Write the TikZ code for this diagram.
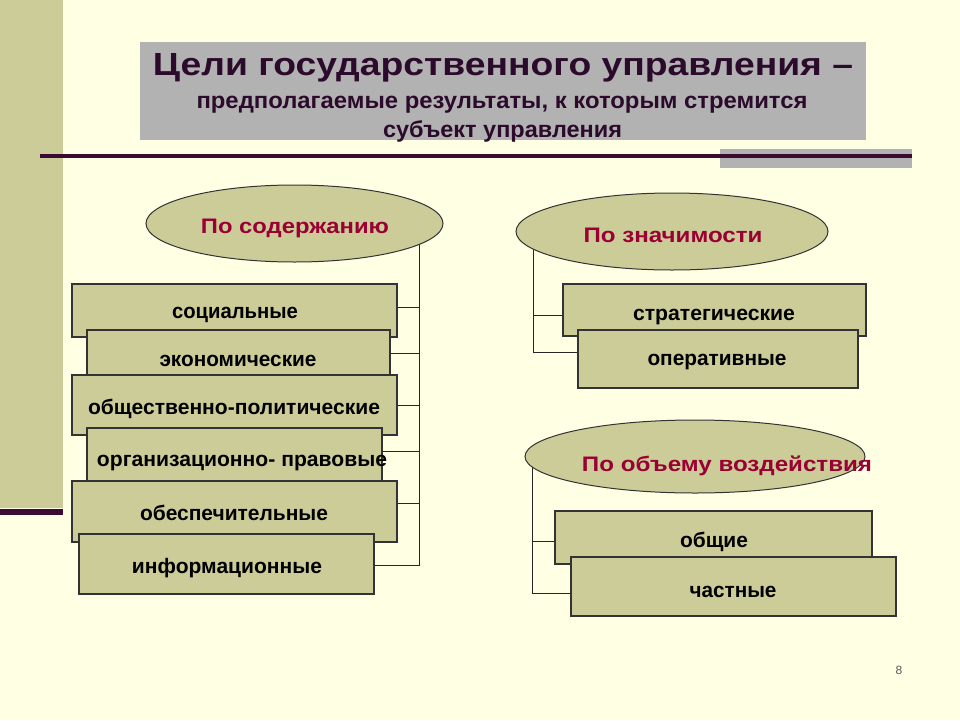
\documentclass[tikz,border=0pt]{standalone}
\usepackage{fontspec}
\setmainfont{Liberation Sans}
\usetikzlibrary{shapes.geometric}
\definecolor{pagebg}{HTML}{FFFFE4}
\definecolor{strip}{HTML}{CCCC99}
\definecolor{boxfill}{HTML}{CCCC99}
\definecolor{titlegray}{HTML}{B2B2B2}
\definecolor{barmaroon}{HTML}{3A0A32}
\definecolor{titletext}{HTML}{2B0A2B}
\definecolor{catred}{HTML}{990033}
\newcommand\fw[2]{\resizebox{#1pt}{\height}{#2}}
\pgfdeclarelayer{backlayer}
\pgfdeclarelayer{connlayer}
\pgfsetlayers{backlayer,connlayer,main}
\begin{document}
\begin{tikzpicture}[x=1pt,y=-1pt,
  box/.style={draw=black!80, line width=1.2pt, fill=boxfill, inner sep=0pt, outer sep=0pt, anchor=north west},
  ell/.style={ellipse, draw=black!80, line width=1pt, fill=boxfill, inner sep=0pt},
  lbl/.style={font=\bfseries\fontsize{21}{23}\selectfont, text=black, anchor=base, inner sep=0pt},
  cat/.style={text=catred, anchor=base, inner sep=0pt},
  conn/.style={draw=black!85, line width=0.9pt},
  ttl/.style={text=titletext, anchor=base, inner sep=0pt}]
\useasboundingbox (0,0) rectangle (960,720);
\begin{pgfonlayer}{backlayer}
\fill[pagebg] (0,0) rectangle (960,720);
% left strip
\fill[strip] (0,0) rectangle (63,508);
\fill[barmaroon] (0,509) rectangle (63,515);
\end{pgfonlayer}
% title
\node[fill=titlegray, minimum width=726pt, minimum height=98pt, inner sep=0pt, anchor=north west] (tbox) at (140,42) {};
\node[ttl, font=\bfseries\fontsize{32}{34}\selectfont] (t1) at (503,75) {\fw{700}{Цели государственного управления –}};
\node[ttl, font=\bfseries\fontsize{23}{25}\selectfont] (t2) at (502,108) {\fw{611}{предполагаемые результаты, к которым стремится}};
\node[ttl, font=\bfseries\fontsize{23}{25}\selectfont] (t3) at (502.5,137) {\fw{239}{субъект управления}};
\node[fill=titlegray, minimum width=192pt, minimum height=19pt, inner sep=0pt, anchor=north west] (gbar) at (720,149) {};
\coordinate (rl) at (40,156);
\coordinate (rr) at (912,156);
\draw[barmaroon, line width=3.5pt] (rl) -- (rr);
% ellipses
\node[ell, minimum width=297pt, minimum height=77pt] (e1) at (294.5,223.5) {};
\node[cat, font=\bfseries\fontsize{21}{23}\selectfont] (c1) at (295,233) {\fw{188}{По содержанию}};
\node[ell, minimum width=312pt, minimum height=77pt] (e2) at (672,231.5) {};
\node[cat, font=\bfseries\fontsize{21}{23}\selectfont] (c2) at (673,242) {\fw{179}{По значимости}};
\node[ell, minimum width=340pt, minimum height=73pt] (e3) at (695,456.5) {};
% left boxes
\node[box, minimum width=325pt, minimum height=53pt] (b1) at (72,284) {};
\node[lbl] (l1) at (235,318) {\fw{126}{социальные}};
\node[box, minimum width=303pt, minimum height=53pt] (b2) at (87,330) {};
\node[lbl] (l2) at (238,366) {\fw{157}{экономические}};
\node[box, minimum width=325pt, minimum height=60pt] (b3) at (72,375) {};
\node[lbl] (l3) at (234,414) {\fw{292}{общественно-политические}};
\node[box, minimum width=295pt, minimum height=53pt] (b4) at (87,428) {};
\node[lbl] (l4) at (242,466) {\fw{290}{организационно- правовые}};
\node[box, minimum width=325pt, minimum height=61pt] (b5) at (72,481) {};
\node[lbl] (l5) at (234,520) {\fw{188}{обеспечительные}};
\node[box, minimum width=295pt, minimum height=60pt] (b6) at (79,534) {};
\node[lbl] (l6) at (227,573) {\fw{190}{информационные}};
% right boxes
\node[box, minimum width=303pt, minimum height=52pt] (b7) at (563,284) {};
\node[lbl] (l7) at (714,320) {\fw{162}{стратегические}};
\node[box, minimum width=280pt, minimum height=58pt] (b8) at (578,330) {};
\node[lbl] (l8) at (717,365) {\fw{139}{оперативные}};
\node[box, minimum width=317pt, minimum height=53pt] (b9) at (555,511) {};
\node[lbl] (l9) at (714,547) {\fw{68}{общие}};
\node[box, minimum width=325pt, minimum height=59pt] (b10) at (571,557) {};
\node[lbl] (l10) at (733,597) {\fw{87}{частные}};
\node[cat, font=\bfseries\fontsize{21}{23}\selectfont] (c3) at (727,471) {\fw{290}{По объему воздействия}};
% page number
\node[text=black!65, font=\fontsize{12}{14}\selectfont, inner sep=0pt] (pn) at (899,670) {8};
% connectors
\begin{pgfonlayer}{connlayer}
\coordinate (v1) at (419,228);
\coordinate (v2) at (533,236);
\coordinate (v3) at (532,455);
\draw[conn] (v1) |- ([yshift=-1pt]b6.east);
\draw[conn] ([yshift=3.5pt]b1.east) -- ([yshift=3.5pt]b1.east -| v1);
\draw[conn] ([yshift=3.5pt]b2.east) -- ([yshift=3.5pt]b2.east -| v1);
\draw[conn] (b3.east) -- (b3.east -| v1);
\draw[conn] ([yshift=3.5pt]b4.east) -- ([yshift=3.5pt]b4.east -| v1);
\draw[conn] ([yshift=8.5pt]b5.east) -- ([yshift=8.5pt]b5.east -| v1);
\draw[conn] (v2) |- ([yshift=7pt]b8.west);
\draw[conn] ([yshift=-5pt]b7.west) -- ([yshift=-5pt]b7.west -| v2);
\draw[conn] (v3) |- ([yshift=-6.5pt]b10.west);
\draw[conn] ([yshift=-3.5pt]b9.west) -- ([yshift=-3.5pt]b9.west -| v3);
\end{pgfonlayer}
\end{tikzpicture}
\end{document}
